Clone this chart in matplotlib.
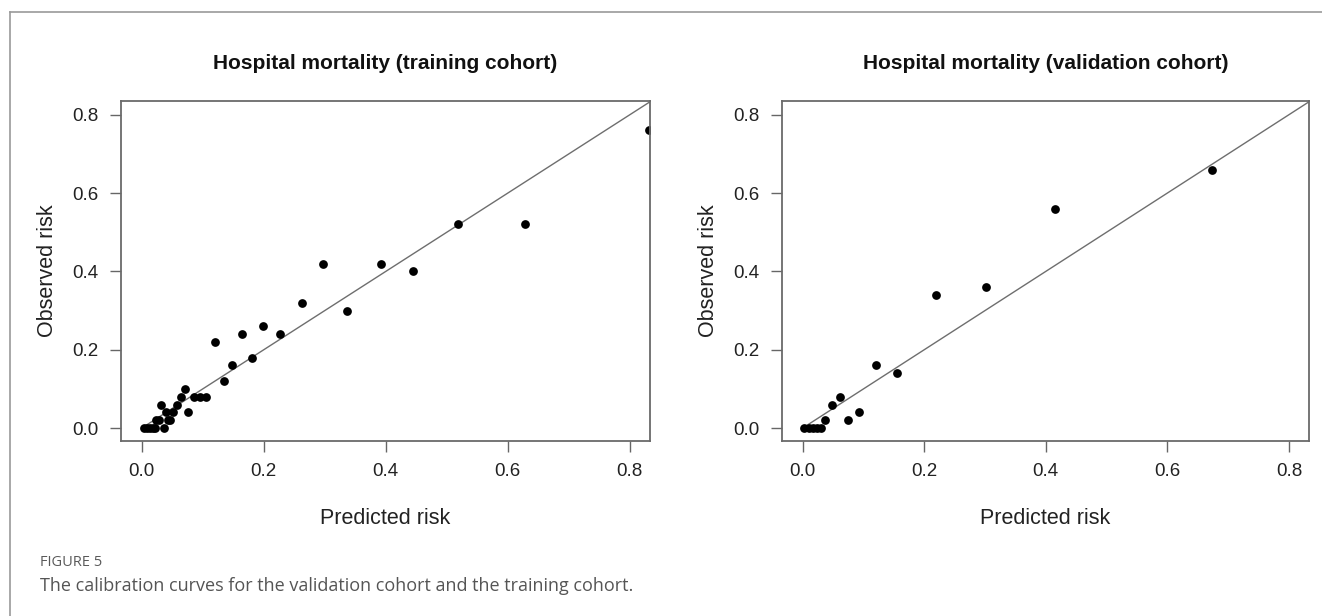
import matplotlib
matplotlib.use("Agg")
import matplotlib.pyplot as plt
from matplotlib.lines import Line2D

treino_prev = [0.003, 0.008, 0.013, 0.018, 0.022, 0.036,
               0.023, 0.028, 0.043, 0.047,
               0.040, 0.052, 0.076,
               0.032, 0.058,
               0.065, 0.086, 0.095, 0.106,
               0.071,
               0.120, 0.135, 0.148, 0.165, 0.180, 0.198, 0.226,
               0.262, 0.297, 0.337, 0.392, 0.445, 0.519, 0.628, 0.832]
treino_obs = [0.0, 0.0, 0.0, 0.0, 0.0, 0.0,
              0.02, 0.02, 0.02, 0.02,
              0.04, 0.04, 0.04,
              0.06, 0.06,
              0.08, 0.08, 0.08, 0.08,
              0.10,
              0.22, 0.12, 0.16, 0.24, 0.18, 0.26, 0.24,
              0.32, 0.42, 0.30, 0.42, 0.40, 0.52, 0.52, 0.76]

valid_prev = [0.003, 0.010, 0.017, 0.023, 0.030, 0.037, 0.048, 0.061,
              0.075, 0.093, 0.121, 0.156, 0.219, 0.301, 0.415, 0.674]
valid_obs = [0.0, 0.0, 0.0, 0.0, 0.0, 0.02, 0.06, 0.08,
             0.02, 0.04, 0.16, 0.14, 0.34, 0.36, 0.56, 0.66]

ticks = [0.0, 0.2, 0.4, 0.6, 0.8]
tick_labels = ["0.0", "0.2", "0.4", "0.6", "0.8"]
titulos = ["Hospital mortality (training cohort)",
           "Hospital mortality (validation cohort)"]

plt.rcParams['font.family'] = ['Liberation Sans', 'DejaVu Sans']

W, H = 1322, 616
fig = plt.figure(figsize=(W / 100, H / 100), dpi=100)

# moldura da figura (linha da esquerda e de cima)
fig.add_artist(Line2D([10 / W, 10 / W], [0, 1 - 12 / H], transform=fig.transFigure,
                      color='#9a9a9a', lw=1.2))
fig.add_artist(Line2D([10 / W, 1], [1 - 12 / H, 1 - 12 / H], transform=fig.transFigure,
                      color='#9a9a9a', lw=1.2))

caixas = [(121, 529), (782, 527)]
dados = [(treino_prev, treino_obs), (valid_prev, valid_obs)]
topo, base = 101, 441

for (x0, largura), (xs, ys), titulo in zip(caixas, dados, titulos):
    ax = fig.add_axes([x0 / W, 1 - base / H, largura / W, (base - topo) / H])
    ax.set_xlim(-0.034, 0.833)
    ax.set_ylim(-0.033, 0.835)

    # linha ideal (diagonal)
    ax.plot([0, 1], [0, 1], color='#6e6e6e', lw=1.0, zorder=1)
    ax.plot(xs, ys, 'o', color='black', ms=6.3, mew=0, zorder=2, clip_on=True)

    ax.set_xticks(ticks)
    ax.set_xticklabels(tick_labels)
    ax.set_yticks(ticks)
    ax.set_yticklabels(tick_labels)
    ax.tick_params(direction='out', length=8, width=1.0, color='#666666',
                   pad=8, labelsize=13.5, labelcolor='#222222')
    for s in ax.spines.values():
        s.set_color('#6a6a6a')
        s.set_linewidth(1.3)

    ax.set_title(titulo, fontsize=15, fontweight='bold', color='#111111', pad=23)
    ax.set_xlabel("Predicted risk", fontsize=15.5, color='#222222')
    ax.set_ylabel("Observed risk", fontsize=15.5, color='#222222')
    ax.xaxis.set_label_coords(0.5, -0.197)
    ax.yaxis.set_label_coords(-0.119 * 529 / largura, 0.5)

fig.text(40 / W, 1 - 563 / H, "FIGURE 5", family=['Open Sans', 'DejaVu Sans'],
         fontsize=10.5, color='#5a5a5a', va='center', ha='left')
fig.text(40 / W, 1 - 586 / H,
         "The calibration curves for the validation cohort and the training cohort.",
         family=['Open Sans', 'DejaVu Sans'], fontsize=13, color='#555555',
         va='center', ha='left')

fig.savefig("out.png", dpi=100)
